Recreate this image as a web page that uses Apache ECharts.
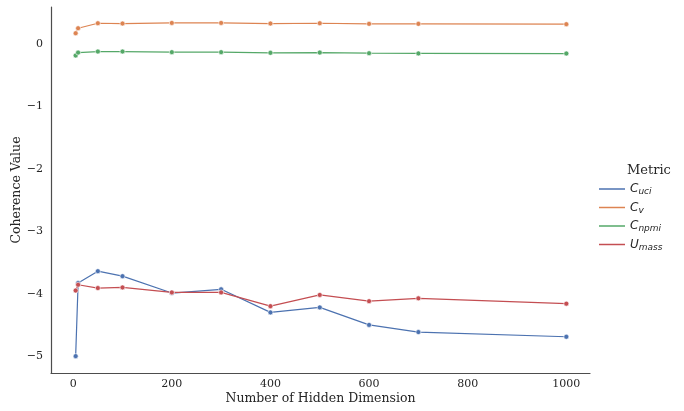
<!DOCTYPE html>
<html><head><meta charset="utf-8">
<script src="https://cdn.jsdelivr.net/npm/echarts@6/dist/echarts.min.js"></script>
<style>html,body{margin:0;padding:0;background:#fff}#c{width:684px;height:411px}</style>
</head><body><div id="c"></div>
<script>
const dims = [5, 10, 50, 100, 200, 300, 400, 500, 600, 700, 1000];
const cUci  = [-5.00, -3.83, -3.64, -3.72, -3.99, -3.93, -4.30, -4.22, -4.50, -4.615, -4.69];
const cV    = [0.17, 0.25, 0.33, 0.325, 0.335, 0.335, 0.325, 0.33, 0.32, 0.32, 0.315];
const cNpmi = [-0.187, -0.14, -0.123, -0.123, -0.133, -0.133, -0.144, -0.14, -0.15, -0.153, -0.155];
const uMass = [-3.95, -3.857, -3.91, -3.90, -3.98, -3.98, -4.20, -4.02, -4.12, -4.075, -4.16];
const names = ['C_uci', 'C_v', 'C_npmi', 'U_mass'];
const colors = ['#4C72B0', '#DD8452', '#55A868', '#C44E52'];
const seriesData = [cUci, cV, cNpmi, uMass];

const chart = echarts.init(document.getElementById('c'));
const serif = 'DejaVu Serif';
const series = names.map((n, i) => ({
  name: n, type: 'line',
  data: dims.map((d, j) => [d, seriesData[i][j]]),
  symbol: 'circle', symbolSize: 5,
  lineStyle: {color: colors[i], width: 1.2},
  itemStyle: {color: colors[i], borderColor: '#fff', borderWidth: 0.6},
  emphasis: {disabled: true},
  animation: false
}));
const legendFmt = {
  C_uci: '{m|C}{s|uci}', C_v: '{m|C}{s|v}', C_npmi: '{m|C}{s|npmi}', U_mass: '{m|U}{s|mass}'
};
chart.setOption({
  backgroundColor: '#fff',
  animation: false,
  grid: {left: 51, right: 94, top: 7, bottom: 38, outerBoundsMode: 'none', containLabel: false},
  graphic: [{type: 'text', left: 627, top: 164, style: {text: 'Metric', font: '13px "DejaVu Serif"', fill: '#262626'}}],
  legend: {
    orient: 'vertical', left: 594, top: 178,
    icon: 'rect', itemWidth: 26, itemHeight: 1.5, itemGap: 5,
    itemStyle: {borderWidth: 0},
    data: names.map((n, i) => ({name: n, itemStyle: {color: colors[i], borderWidth: 0}})),
    formatter: n => legendFmt[n],
    textStyle: {
      color: '#262626',
      rich: {
        m: {fontFamily: 'DejaVu Sans', fontStyle: 'italic', fontSize: 12, color: '#262626'},
        s: {fontFamily: 'DejaVu Sans', fontStyle: 'italic', fontSize: 9, color: '#262626', verticalAlign: 'bottom', padding: [6, 0, 0, 0]}
      }
    }
  },
  xAxis: {
    type: 'value', min: -45, max: 1048, splitNumber: 5,
    name: 'Number of Hidden Dimension', nameLocation: 'middle', nameGap: 19, nameMoveOverlap: false,
    nameTextStyle: {fontFamily: serif, fontSize: 12.5, color: '#262626'},
    axisLine: {onZero: false, lineStyle: {color: '#4d4d4d', width: 1.2}},
    axisTick: {show: false}, splitLine: {show: false},
    axisLabel: {fontFamily: serif, fontSize: 11, color: '#262626', margin: 6,
      formatter: v => (Math.abs(v % 200) < 1e-9 ? String(v) : '')}
  },
  yAxis: {
    type: 'value', min: -5.27, max: 0.59, splitNumber: 6,
    name: 'Coherence Value', nameLocation: 'middle', nameGap: 28, nameMoveOverlap: false,
    nameTextStyle: {fontFamily: serif, fontSize: 12.5, color: '#262626'},
    axisLine: {show: true, onZero: false, lineStyle: {color: '#4d4d4d', width: 1.2}},
    axisTick: {show: false}, splitLine: {show: false},
    axisLabel: {fontFamily: serif, fontSize: 11, color: '#262626', margin: 8,
      formatter: v => {
        const r = Math.round(v);
        if (Math.abs(v - r) > 1e-6) return '';
        return r < 0 ? '\u2212' + Math.abs(r) : String(r);
      }}
  },
  series: series
});
</script></body></html>
